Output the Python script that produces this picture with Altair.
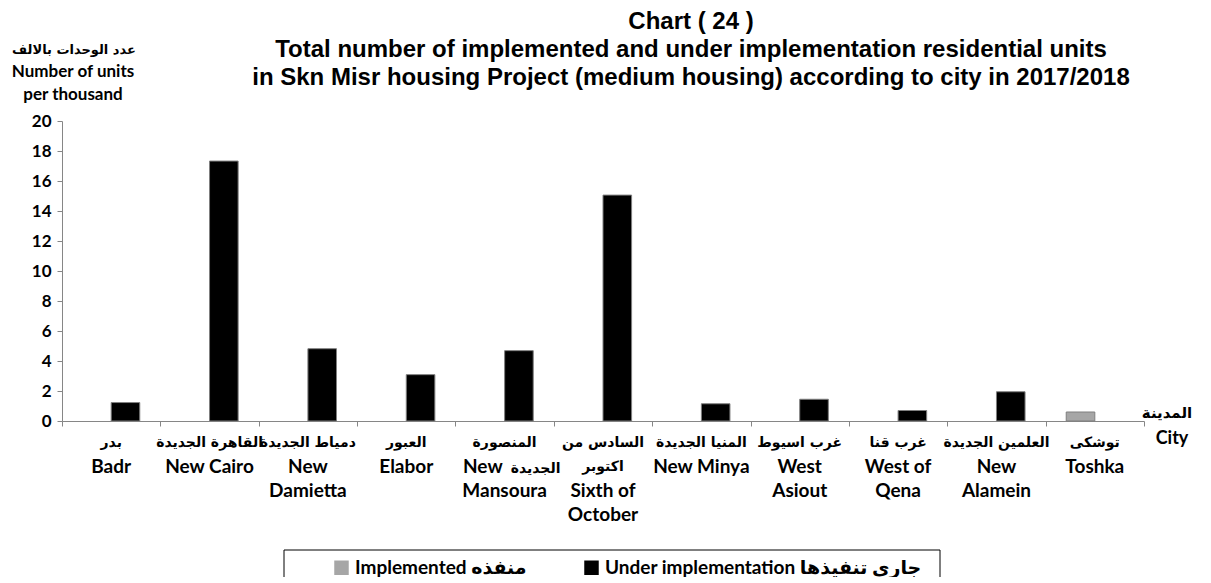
import altair as alt
import pandas as pd

# ---- data ----
city_ar = [
    ["بدر"],
    ["القاهرة الجديدة"],
    ["دمياط الجديدة"],
    ["العبور"],
    ["المنصورة"],
    ["السادس من", "اكتوبر"],
    ["المنيا الجديدة"],
    ["غرب اسيوط"],
    ["غرب قنا"],
    ["العلمين الجديدة"],
    ["توشكى"],
]
# line that mixes an English word (left) and an Arabic word (right)
mix_en = ["", "", "", "", "New", "", "", "", "", "", ""]
mix_ar = ["", "", "", "", "الجديدة", "", "", "", "", "", ""]
city_en = [
    ["Badr"],
    ["New Cairo"],
    ["New", "Damietta"],
    ["Elabor"],
    ["Mansoura"],
    ["Sixth of", "October"],
    ["New Minya"],
    ["West", "Asiout"],
    ["West of", "Qena"],
    ["New", "Alamein"],
    ["Toshka"],
]
under_implementation = [1.23, 17.33, 4.82, 3.09, 4.69, 15.06, 1.15, 1.45, 0.70, 1.95, 0.0]
implemented = [0, 0, 0, 0, 0, 0, 0, 0, 0, 0, 0.60]
series_names = ["Implemented منفذه", "Under implementation جارى تنفيذها"]
series_colors = ["#a6a6a6", "#000000"]
y_ticks = list(range(0, 21, 2))

title_lines = [
    "Chart ( 24 )",
    "Total number of implemented and under implementation residential units",
    "in Skn Misr housing Project (medium housing) according to city in 2017/2018",
]
y_title_ar = "عدد الوحدات  بالالف"
y_title_en = ["Number of units", "per thousand"]
x_title_ar = "المدينة"
x_title_en = "City"

# ---- tables ----
city_keys = ["c%02d" % i for i in range(len(city_en))]
rows = []
for key, imp, und in zip(city_keys, implemented, under_implementation):
    if imp > 0:
        rows.append({"city": key, "series": series_names[0], "value": imp})
    if und > 0:
        rows.append({"city": key, "series": series_names[1], "value": und})
df = pd.DataFrame(rows)

lab = pd.DataFrame({
    "city": city_keys,
    "ar": ["\n".join(a) for a in city_ar],
    "en": ["\n".join(e) for e in city_en],
    "mix_en": mix_en,
    "mix_ar": mix_ar,
    "en_start": [len(a) + (1 if m else 0) for a, m in zip(city_ar, mix_en)],
})

W, H = 1082, 300
FONT = "Lato, DejaVu Sans"
AR_FONT = "DejaVu Sans"
GRAY = "#868686"
LINE1, LH = 326, 24
AR_SIZE = 14

x_axis = alt.Axis(
    title=None,
    labels=False,
    tickBand="extent",
    tickSize=5,
    tickColor=GRAY,
    domainColor=GRAY,
    grid=False,
)
x_enc = alt.X(
    "city:N",
    sort=city_keys,
    scale=alt.Scale(domain=city_keys, paddingInner=0, paddingOuter=0),
    axis=x_axis,
)

bars = alt.Chart(df).mark_bar(stroke="#7f7f7f", strokeWidth=1).encode(
    x=x_enc,
    xOffset=alt.XOffset(
        "series:N",
        scale=alt.Scale(domain=series_names, paddingInner=0, paddingOuter=0.72),
    ),
    y=alt.Y(
        "value:Q",
        scale=alt.Scale(domain=[0, 20], nice=False),
        axis=alt.Axis(
            title=None,
            values=y_ticks,
            grid=False,
            domainColor=GRAY,
            tickColor=GRAY,
            tickSize=5,
            labelFont=FONT,
            labelFontSize=17,
            labelFontWeight="bold",
            labelColor="black",
            labelPadding=6,
        ),
    ),
    color=alt.Color(
        "series:N",
        scale=alt.Scale(domain=series_names, range=series_colors),
        legend=alt.Legend(
            title=None,
            orient="none",
            legendX=270,
            legendY=437,
            direction="horizontal",
            symbolType="square",
            symbolSize=210,
            symbolStrokeWidth=0,
            labelFont=FONT,
            labelFontSize=19,
            labelFontWeight="bold",
            labelColor="black",
            labelLimit=600,
            columnPadding=55,
            padding=0,
        ),
    ),
)

# city labels below the axis
lab_ar = alt.Chart(lab).mark_text(
    font=AR_FONT, fontSize=AR_SIZE, fontWeight="bold", align="center",
    baseline="alphabetic", lineBreak="\n", lineHeight=LH, color="black",
).encode(x=x_enc, text="ar:N", y=alt.value(LINE1))

lab_mix_en = alt.Chart(lab).transform_filter("datum.mix_en != ''").mark_text(
    font=FONT, fontSize=19, fontWeight="bold", align="right", dx=-2,
    baseline="alphabetic", color="black",
).encode(x=x_enc, text="mix_en:N", y=alt.value(LINE1 + LH + 2))

lab_mix_ar = alt.Chart(lab).transform_filter("datum.mix_ar != ''").mark_text(
    font=AR_FONT, fontSize=AR_SIZE, fontWeight="bold", align="left", dx=6,
    baseline="alphabetic", color="black",
).encode(x=x_enc, text="mix_ar:N", y=alt.value(LINE1 + LH + 2))

lab_en1 = alt.Chart(lab).transform_filter("datum.en_start == 1").mark_text(
    font=FONT, fontSize=19, fontWeight="bold", align="center",
    baseline="alphabetic", lineBreak="\n", lineHeight=LH, color="black",
).encode(x=x_enc, text="en:N", y=alt.value(LINE1 + LH + 2))

lab_en2 = alt.Chart(lab).transform_filter("datum.en_start == 2").mark_text(
    font=FONT, fontSize=19, fontWeight="bold", align="center",
    baseline="alphabetic", lineBreak="\n", lineHeight=LH, color="black",
).encode(x=x_enc, text="en:N", y=alt.value(LINE1 + 2 * LH + 2))

legend_box = alt.Chart(pd.DataFrame({"k": [0]})).mark_rect(
    fill="white", stroke="black", strokeWidth=1
).encode(
    x=alt.value(222), x2=alt.value(878), y=alt.value(429), y2=alt.value(480)
)

title_txt = alt.Chart(pd.DataFrame({"t": ["\n".join(title_lines)]})).mark_text(
    font="Liberation Sans", fontSize=24, fontWeight="bold", align="center",
    baseline="alphabetic", lineBreak="\n", lineHeight=28, color="black",
).encode(text="t:N", x=alt.value(629), y=alt.value(-92))

ytitle_ar = alt.Chart(pd.DataFrame({"t": [y_title_ar]})).mark_text(
    font=AR_FONT, fontSize=13, fontWeight="bold", align="center",
    baseline="alphabetic", color="black",
).encode(text="t:N", x=alt.value(12), y=alt.value(-67))

ytitle_en = alt.Chart(pd.DataFrame({"t": ["\n".join(y_title_en)]})).mark_text(
    font=FONT, fontSize=17, fontWeight="bold", align="center",
    baseline="alphabetic", lineBreak="\n", lineHeight=23, color="black",
).encode(text="t:N", x=alt.value(11), y=alt.value(-44))

xtitle_ar = alt.Chart(pd.DataFrame({"t": [x_title_ar]})).mark_text(
    font=AR_FONT, fontSize=15, fontWeight="bold", align="center",
    baseline="alphabetic", color="black",
).encode(text="t:N", x=alt.value(1105), y=alt.value(297))

xtitle_en = alt.Chart(pd.DataFrame({"t": [x_title_en]})).mark_text(
    font=FONT, fontSize=18, fontWeight="bold", align="center",
    baseline="alphabetic", color="black",
).encode(text="t:N", x=alt.value(1110), y=alt.value(323))

chart = alt.layer(
    legend_box, bars, lab_ar, lab_mix_en, lab_mix_ar, lab_en1, lab_en2,
    title_txt, ytitle_ar, ytitle_en, xtitle_ar, xtitle_en,
).properties(
    width=W,
    height=H,
    background="white",
    padding={"left": 54, "top": 113, "right": 52, "bottom": 156},
    autosize=alt.AutoSizeParams(type="none"),
).configure_view(strokeWidth=0, stroke="transparent")

chart.save("out.html", embed_options={"renderer": "svg", "actions": False})
